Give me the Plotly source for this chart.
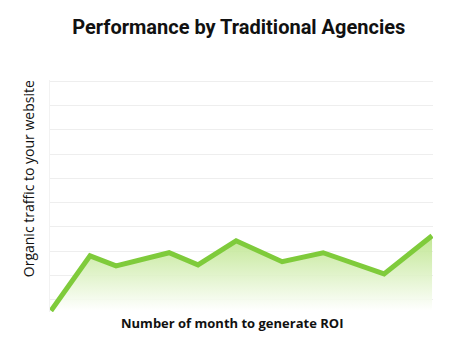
import plotly.graph_objects as go

months = [0, 1.23, 2.05, 3.72, 4.63, 5.83, 7.28, 8.57, 10.49, 12.0]
traffic = [0.0, 2.26, 1.85, 2.39, 1.89, 2.88, 2.02, 2.39, 1.52, 3.09]

title_text = "Performance by Traditional Agencies"
x_title = "Number of month to generate ROI"
y_title = "Organic traffic to your website"

fig = go.Figure()
fig.add_trace(go.Scatter(
    x=months, y=traffic, mode="lines",
    line=dict(color="#7FCB3B", width=5, shape="linear"),
    fill="tozeroy",
    fillgradient=dict(type="vertical",
                      colorscale=[[0, "rgba(255,255,255,0.9)"], [1, "rgba(186,228,135,0.9)"]]),
    hoverinfo="skip",
))

fig.update_layout(
    width=468, height=349,
    margin=dict(l=42, r=43, t=72, b=45),
    paper_bgcolor="white", plot_bgcolor="white",
    showlegend=False,
    title=dict(text=title_text, x=0.493, xanchor="center", y=0.946, yanchor="middle",
               font=dict(family="Roboto", size=20, color="#111111", weight="bold")),
    xaxis=dict(range=[-0.03, 12.03], showgrid=False, showticklabels=False,
               zeroline=False, showline=False, ticks=""),
    yaxis=dict(range=[-0.05, 9.5], tick0=0.45, dtick=1, showgrid=True,
               gridcolor="#EEEEEE", gridwidth=1, showticklabels=False,
               zeroline=False, showline=True, linecolor="#F2F2F2", linewidth=1, ticks=""),
    annotations=[
        dict(text=x_title, xref="paper", yref="paper", x=0.475, y=-0.047,
             xanchor="center", yanchor="middle", showarrow=False,
             font=dict(family="Open Sans", size=13, color="#111111", weight="bold")),
        dict(text=y_title, xref="paper", yref="paper", x=-0.057, y=0.573,
             xanchor="center", yanchor="middle", textangle=-90, showarrow=False,
             font=dict(family="Open Sans", size=14, color="#111111")),
    ],
)

fig.write_html("out.html")
